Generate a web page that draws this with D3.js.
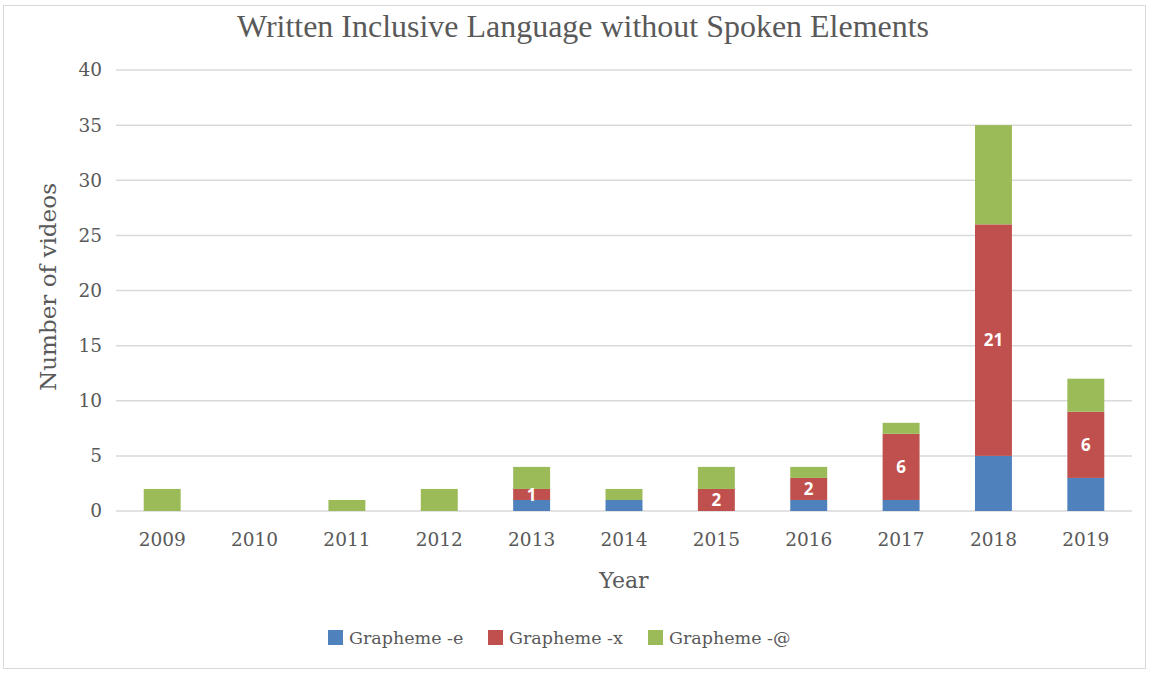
<!DOCTYPE html>
<html>
<head>
<meta charset="utf-8">
<script src="https://cdn.jsdelivr.net/npm/d3@7"></script>
<style>
  body { margin: 0; background: #fff; }
  svg { display: block; }
</style>
</head>
<body>
<div class="chart-container"></div>
<script>
// values
const years = ["2009", "2010", "2011", "2012", "2013", "2014", "2015", "2016", "2017", "2018", "2019"]
const graphemeE = [0, 0, 0, 0, 1, 1, 0, 1, 1, 5, 3]
const graphemeX = [0, 0, 0, 0, 1, 0, 2, 2, 6, 21, 6]
const graphemeAt = [2, 0, 1, 2, 2, 1, 2, 1, 1, 9, 3]
const seriesNames = ["Grapheme -e", "Grapheme -x", "Grapheme -@"]
const yTicks = [0, 5, 10, 15, 20, 25, 30, 35, 40]
// only the red segments carry a label in the original
const labelled = [false, false, false, false, true, false, true, true, true, true, true]

const colors = ["#4F81BD", "#C0504D", "#9BBB59"]
const serif = "'DejaVu Serif', 'Liberation Serif', serif"

const W = 1150, H = 673
const margin = {top: 70, right: 18, bottom: 162, left: 116}

const svg = d3.select(".chart-container").append("svg")
    .attr("width", W)
    .attr("height", H)

// outer frame
svg.append("rect")
    .attr("x", 3.5).attr("y", 5.5)
    .attr("width", W - 8).attr("height", H - 10)
    .attr("fill", "none")
    .attr("stroke", "#d9d9d9")

//Build the stacked table
const table = years.map((y, i) => ({year: y, e: graphemeE[i], x: graphemeX[i], at: graphemeAt[i], i: i}))
const stack = d3.stack().keys(["e", "x", "at"])(table)

const x = d3.scaleBand()
    .domain(years)
    .range([margin.left, W - margin.right])
    .paddingInner(0.6)
    .paddingOuter(0.3)

const y = d3.scaleLinear()
    .domain([0, 40])
    .range([H - margin.bottom, margin.top])

//Gridlines
svg.append("g")
    .selectAll("line")
    .data(yTicks)
    .join("line")
    .attr("x1", margin.left)
    .attr("x2", W - margin.right)
    .attr("y1", d => y(d))
    .attr("y2", d => y(d))
    .attr("stroke", "#d9d9d9")
    .attr("stroke-width", 1.5)

//Y axis labels
const yAxis = g => g
    .attr("transform", `translate(${margin.left - 6},0)`)
    .call(d3.axisLeft(y).tickValues(yTicks).tickSize(0).tickPadding(8))
    .call(g => g.select(".domain").remove())
    .call(g => g.selectAll("text")
        .attr("font-family", serif)
        .attr("font-size", 18.5)
        .attr("fill", "#595959"))
svg.append("g").call(yAxis)

//X axis labels
const xAxis = g => g
    .attr("transform", `translate(0,${H - margin.bottom})`)
    .call(d3.axisBottom(x).tickSize(0).tickPadding(22))
    .call(g => g.select(".domain").remove())
    .call(g => g.selectAll("text")
        .attr("font-family", serif)
        .attr("font-size", 18.5)
        .attr("fill", "#595959"))
svg.append("g").call(xAxis)

//Bars
svg.append("g")
    .selectAll("g")
    .data(stack)
    .join("g")
    .attr("fill", (d, i) => colors[i])
    .selectAll("rect")
    .data(d => d)
    .join("rect")
    .attr("x", d => x(d.data.year))
    .attr("width", x.bandwidth())
    .attr("y", d => y(d[1]))
    .attr("height", d => y(d[0]) - y(d[1]))

//Data labels on the red segments
svg.append("g")
    .selectAll("text")
    .data(stack[1].filter(d => labelled[d.data.i]))
    .join("text")
    .attr("x", d => x(d.data.year) + x.bandwidth() / 2)
    .attr("y", d => (y(d[0]) + y(d[1])) / 2)
    .attr("dy", "0.36em")
    .attr("text-anchor", "middle")
    .attr("font-family", "'Open Sans', sans-serif")
    .attr("font-weight", "bold")
    .attr("font-size", 17)
    .attr("fill", "#fff")
    .text(d => d.data.x)

//Title (condensed serif in the original)
svg.append("text")
    .attr("x", 583)
    .attr("y", 37)
    .attr("text-anchor", "middle")
    .attr("font-family", "'Liberation Serif', serif")
    .attr("font-size", 31)
    .attr("textLength", 692)
    .attr("lengthAdjust", "spacingAndGlyphs")
    .attr("fill", "#595959")
    .text("Written Inclusive Language without Spoken Elements")

//Axis titles
svg.append("text")
    .attr("x", 624)
    .attr("y", 588)
    .attr("text-anchor", "middle")
    .attr("font-family", serif)
    .attr("font-size", 22)
    .attr("fill", "#595959")
    .text("Year")

svg.append("text")
    .attr("transform", `translate(56,287) rotate(-90)`)
    .attr("text-anchor", "middle")
    .attr("font-family", serif)
    .attr("font-size", 22)
    .attr("textLength", 208)
    .attr("lengthAdjust", "spacingAndGlyphs")
    .attr("fill", "#595959")
    .text("Number of videos")

//Legend
const legendX = [328, 488, 648]
const legend = svg.append("g")
    .selectAll("g")
    .data(seriesNames)
    .join("g")
    .attr("transform", (d, i) => `translate(${legendX[i]},630)`)
legend.append("rect")
    .attr("width", 15).attr("height", 15)
    .attr("fill", (d, i) => colors[i])
legend.append("text")
    .attr("x", 21)
    .attr("y", 7.5)
    .attr("dy", "0.35em")
    .attr("font-family", serif)
    .attr("font-size", 17.5)
    .attr("fill", "#595959")
    .text(d => d)
</script>
</body>
</html>
